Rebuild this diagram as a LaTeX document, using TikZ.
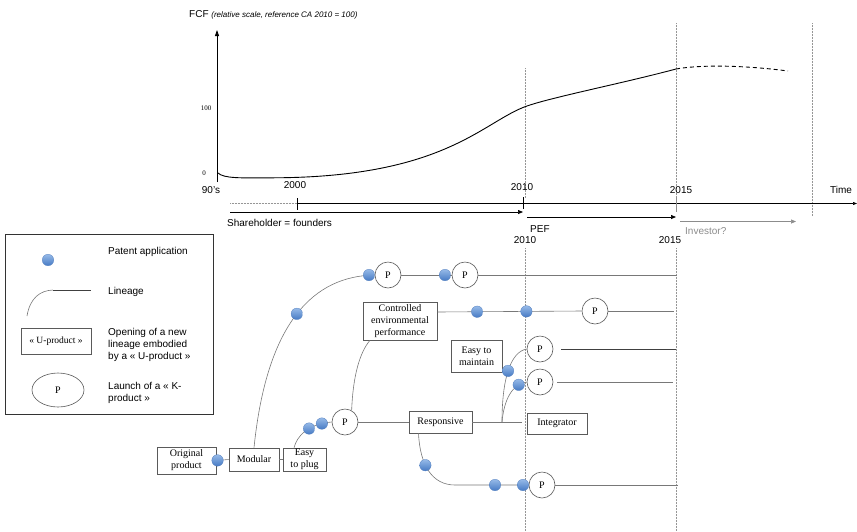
\documentclass[tikz,border=0pt]{standalone}
\usepackage{fontspec}
\setmainfont{Liberation Serif}
\setsansfont{Liberation Sans}
\usetikzlibrary{arrows.meta,shapes.geometric}
\definecolor{dotlight}{RGB}{150,186,232}
\definecolor{dotdark}{RGB}{70,122,196}
\definecolor{dotedge}{RGB}{80,125,190}
\definecolor{linegray}{RGB}{120,120,120}
\definecolor{boxgray}{RGB}{90,90,90}
\definecolor{gridgray}{RGB}{150,150,150}
\definecolor{faint}{RGB}{140,140,140}
\begin{document}
\begin{tikzpicture}[x=1pt,y=-1pt,
  lbl/.style={font=\sffamily\fontsize{10}{12}\selectfont, inner sep=0pt},
  lin/.style={draw=linegray, line width=0.6pt},
  darklin/.style={draw=black!75, line width=0.6pt},
  gridline/.style={draw=gridgray, densely dotted, line width=0.5pt},
  ubox/.style={draw=boxgray, line width=0.6pt, fill=white, align=center,
    inner sep=0pt, font=\fontsize{10}{12}\selectfont},
  kprod/.style={circle, draw=boxgray, line width=0.6pt, fill=white,
    minimum size=26pt, inner sep=0pt, font=\fontsize{10}{12}\selectfont},
  pdot/.style={circle, minimum size=11.5pt, inner sep=0pt, draw=dotedge,
    line width=0.3pt, top color=dotlight, bottom color=dotdark},
  tip/.style={-{Triangle[length=5pt,width=4pt]}}
]
\useasboundingbox (0,0) rectangle (857,531);

% ---------- FCF chart ----------
\node[lbl, anchor=west] (title) at (189,15)
  {FCF {\itshape\fontsize{8}{10}\selectfont (relative scale, reference CA 2010 = 100)}};
\coordinate (ybot) at (217,182);
\coordinate (ytop) at (217,30);
\draw[line width=0.8pt, -{Triangle[length=6pt,width=4pt]}] (ybot) -- (ytop);
\node[inner sep=0pt, font=\fontsize{7}{8}\selectfont] (l100) at (206,108) {100};
\node[inner sep=0pt, font=\fontsize{7}{8}\selectfont] (l0) at (204,173) {0};

% vertical reference years
\draw[gridline] (525,68) -- (525,198);
\draw[gridline] (525,248) -- (525,531);
\draw[gridline] (676,23) -- (676,198);
\draw[gridline] (676,248) -- (676,531);
\draw[gridline] (812,23) -- (812,216);

% FCF curve
\draw[line width=0.9pt]
  (218,173) .. controls (224,178.5) and (240,178) .. (270,177.8)
  .. controls (440,178) and (480,125) .. (523,107.5)
  .. controls (545,98.5) and (620,84) .. (676,69);
\draw[line width=0.9pt, dashed, dash pattern=on 4pt off 3pt]
  (676,69) .. controls (705,64) and (750,66) .. (788,71);

% ---------- time line ----------
\node[lbl] (y90) at (211,190) {90's};
\node[lbl] (y2000) at (295,185) {2000};
\node[lbl] (y2010) at (522,187) {2010};
\node[lbl] (y2015) at (681,190) {2015};
\node[lbl] (ytime) at (841,190) {Time};

\coordinate (t0) at (230,203.5);
\coordinate (t2000) at (297,203.5);
\coordinate (tend) at (857,203.5);
\draw[gridline] (t0) -- (t2000);
\draw[line width=0.6pt, -{Triangle[length=4pt,width=3pt]}] (t2000) -- (tend);
\draw[line width=0.6pt] (297,198) -- (297,210);
\draw[line width=0.6pt] (523,197) -- (523,209);
\draw[line width=0.6pt, draw=faint] (676,197) -- (676,212);

\coordinate (sh0) at (230,212);
\coordinate (sh1) at (523,212);
\draw[line width=0.7pt, tip] (sh0) -- (sh1);
\node[lbl, anchor=west] (shlbl) at (227,222.5) {Shareholder = founders};

\coordinate (pe0) at (527,217);
\coordinate (pe1) at (676,217);
\draw[line width=0.7pt, tip] (pe0) -- (pe1);
\node[lbl, anchor=west] (pelbl) at (530,229) {PEF};
\node[lbl] (pey) at (525,240) {2010};

\coordinate (in0) at (680,221.5);
\coordinate (in1) at (796,221.5);
\draw[line width=0.7pt, draw=faint, tip] (in0) -- (in1);
\node[lbl, anchor=west, text=faint] (inlbl) at (685,231) {Investor?};
\node[lbl] (iny) at (670,240) {2015};

% ---------- legend ----------
\draw[draw=black!80, line width=0.8pt] (5,234) rectangle (213,414);
\node[pdot] (legdot) at (48,260) {};
\node[lbl, anchor=west] (legdottxt) at (108,252) {Patent application};
\coordinate (lega) at (27,316);
\coordinate (legb) at (53,290);
\coordinate (legc) at (91,290);
\draw[lin] (lega) .. controls (30,298) and (40,290.5) .. (legb);
\draw[darklin] (legb) -- (legc);
\node[lbl, anchor=west] (leglintxt) at (108,292) {Lineage};
\node[ubox, minimum width=70pt, minimum height=26pt, font=\fontsize{9.5}{11}\selectfont]
  (legbox) at (56,341) {« U-product »};
\node[lbl, anchor=west, align=left] (legboxtxt) at (108,345)
  {Opening of a new\\lineage embodied\\by a « U-product »};
\node[ellipse, draw=boxgray, line width=0.6pt, minimum width=52pt, minimum height=34pt,
  inner sep=0pt, font=\fontsize{10}{12}\selectfont] (legp) at (58,390) {P};
\node[lbl, anchor=west, align=left] (legptxt) at (108,392.5) {Launch of a « K-\\product »};

% ---------- lineage tree ----------
\node[ubox, minimum width=59pt, minimum height=27pt] (orig) at (186.5,460.5) {Original\\product};
\node[ubox, minimum width=50pt, minimum height=23pt] (modular) at (254,459.5) {Modular};
\node[ubox, minimum width=43pt, minimum height=23pt] (plug) at (304.5,459.5) {Easy\\to plug};
\node[ubox, minimum width=74pt, minimum height=38pt] (ctrl) at (400,321)
  {Controlled\\environmental\\performance};
\node[ubox, minimum width=63pt, minimum height=22pt] (resp) at (440.5,422) {Responsive};
\node[ubox, minimum width=51pt, minimum height=32pt] (maint) at (476.5,356) {Easy to\\maintain};
\node[ubox, minimum width=60pt, minimum height=21pt] (integ) at (557,423.5) {Integrator};

\node[kprod] (p1) at (388,275) {P};
\node[kprod] (p2) at (465,275) {P};
\node[kprod] (p3) at (345,422) {P};
\node[kprod] (p4) at (595,311) {P};
\node[kprod] (p5) at (540,349) {P};
\node[kprod] (p6) at (540,382) {P};
\node[kprod] (p7) at (542,485) {P};

\coordinate (e1) at (677,275);
\coordinate (e2) at (674,311);
\coordinate (e3) at (676,349);
\coordinate (e4) at (673,382);
\coordinate (e5) at (522,422);
\coordinate (e6) at (678,485);
\coordinate (br) at (502,422);
\coordinate (bend) at (455,485);

% original product -> modular -> easy to plug
\draw[lin] (orig.east) -- (modular.west) node[pdot, pos=0.1] (d1) {};
\draw[lin] (modular.east) -- (plug.west);

% modular lineage (top row)
\draw[lin] (modular.north) .. controls (267,320) and (315,276) .. (p1.west)
  node[pdot, pos=0.5] (d2) {};
\node[pdot] (d3) at (369,275) {};
\draw[lin] (p1.east) -- (p2.west);
\node[pdot] (d4) at (445,275) {};
\draw[lin] (p2.east) -- (e1);

% easy to plug lineage
\draw[lin] ([xshift=-10.5pt]plug.north) .. controls (297,436) and (308,424) .. (p3.west)
  node[pdot, pos=0.6] (d5) {} node[pdot, pos=0.85] (d6) {};
\draw[lin] (p3.60) .. controls (353,375) and (360,352) .. ([xshift=-30pt]ctrl.south);
\draw[lin] (p3.east) -- (resp.west);

% controlled environmental performance lineage
\draw[lin] ([yshift=9pt]ctrl.east) -- (p4.west)
  node[pdot, pos=0.276] (d7) {} node[pdot, pos=0.617] (d8) {};
\draw[lin] (p4.east) -- (e2);

% responsive lineage and its branches
\draw[lin] (resp.east) -- (e5);
\draw[lin] (br) .. controls (502,380) and (510,352) .. (p5.west)
  node[pdot, pos=0.5] (d9) {};
\draw[lin] (br) .. controls (504,400) and (512,384) .. (p6.west)
  node[pdot, pos=0.8] (d10) {};
\draw[darklin] ([xshift=8pt]p5.east) -- (e3);
\draw[lin] ([xshift=4pt]p6.east) -- (e4);

\draw[lin] ([xshift=-22pt]resp.south) .. controls (420,465) and (432,485) .. (bend)
  node[pdot, pos=0.4] (d11) {} -- (p7.west);
\node[pdot] (d12) at (495,485) {};
\node[pdot] (d13) at (523,485) {};
\draw[lin] (p7.east) -- (e6);
\end{tikzpicture}
\end{document}
